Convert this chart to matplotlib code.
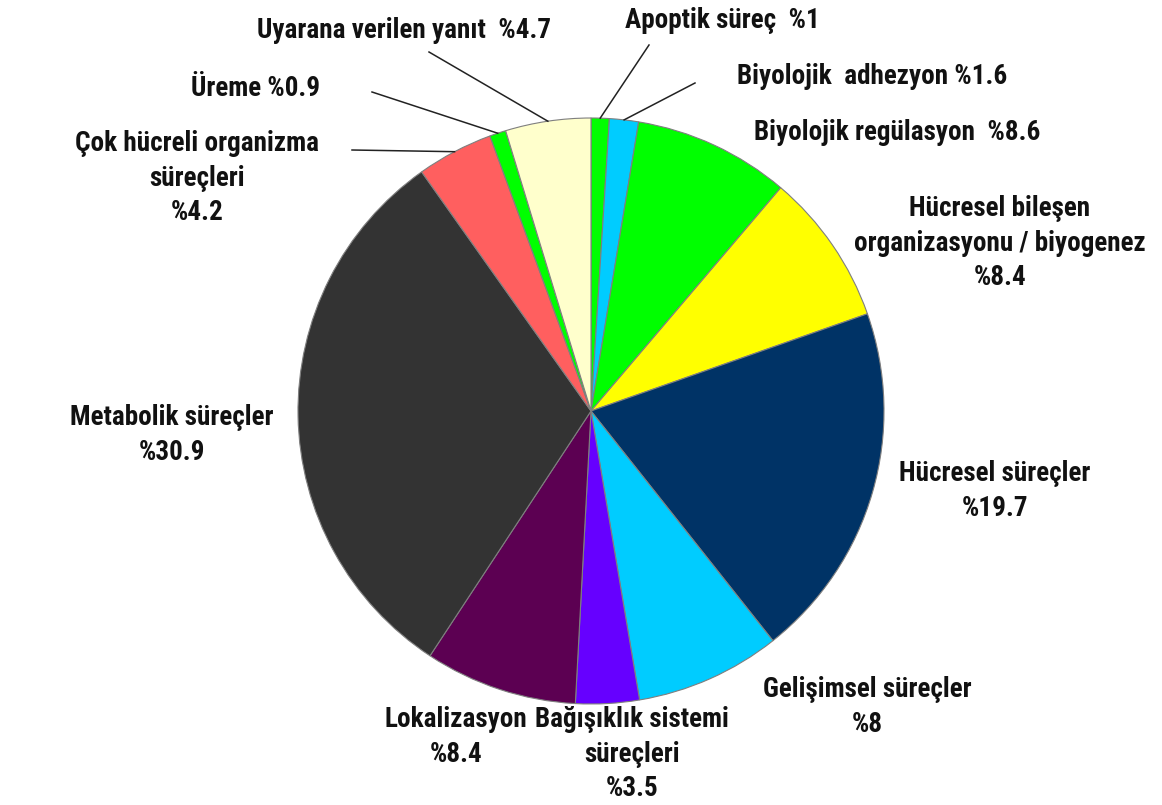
import numpy as np
import matplotlib.pyplot as plt
from matplotlib import font_manager

# dilimler, saat yönünde tepeden başlayarak
labels = ['Apoptik süreç', 'Biyolojik  adhezyon', 'Biyolojik regülasyon',
          'Hücresel bileşen\norganizasyonu / biyogenez', 'Hücresel süreçler',
          'Gelişimsel süreçler', 'Bağışıklık sistemi\nsüreçleri', 'Lokalizasyon',
          'Metabolik süreçler', 'Çok hücreli organizma\nsüreçleri', 'Üreme',
          'Uyarana verilen yanıt']
values = [1, 1.6, 8.6, 8.4, 19.7, 8, 3.5, 8.4, 30.9, 4.2, 0.9, 4.7]
seps = ['  ', ' ', '  ', '\n', '\n', '\n', '\n', '\n', '\n', '\n', ' ', '  ']
colors = ['#00ff00', '#00ccff', '#00ff00', '#ffff00', '#003366', '#00ccff',
          '#6600ff', '#5c0052', '#333333', '#ff5f5f', '#00ff00', '#ffffcc']

# etiket yerleri (piksel)
text_pos = [(722, 21), (872, 77), (897, 133), (1000, 243), (995, 491),
            (867, 707), (632, 754), (456, 737), (172, 435), (197, 178),
            (256, 88), (404, 30)]
leader = [(649, 45), (695, 83), None, None, None, None, None, None, None,
          (352, 150), (372, 92), (429, 52)]

cx, cy, r = 591, 411, 293

# dar bir yazı tipi varsa onu kullan
names = {f.name for f in font_manager.fontManager.ttflist}
fam, fs = 'Liberation Sans', 16
for f, s in [('Roboto Condensed', 19.5), ('Liberation Sans Narrow', 19),
             ('DejaVu Sans Condensed', 16.5)]:
    if f in names:
        fam, fs = f, s
        break
plt.rcParams['font.family'] = [fam, 'DejaVu Sans']

fig = plt.figure(figsize=(11.62, 8.05), dpi=100)
ax = fig.add_axes([0, 0, 1, 1])
wedges, _ = ax.pie(values, colors=colors, startangle=270, counterclock=True,
                   center=(cx, cy), radius=r,
                   wedgeprops=dict(edgecolor='#7f7f7f', linewidth=0.8))
ax.set_xlim(0, 1162)
ax.set_ylim(805, 0)
ax.set_aspect('equal')
ax.axis('off')

for i in range(len(values)):
    txt = labels[i] + seps[i] + '%' + ('%g' % values[i])
    x, y = text_pos[i]
    ax.text(x, y, txt, ha='center', va='center', fontsize=fs,
            fontweight='bold', color='#111111', linespacing=1.38)
    if leader[i] is not None:
        w = wedges[i]
        ang = np.deg2rad((w.theta1 + w.theta2) / 2)
        ex = cx + r * np.cos(ang)
        ey = cy + r * np.sin(ang)
        ax.plot([leader[i][0], ex], [leader[i][1], ey], color='#222222', lw=1.1)

fig.savefig('out.png', dpi=100)
